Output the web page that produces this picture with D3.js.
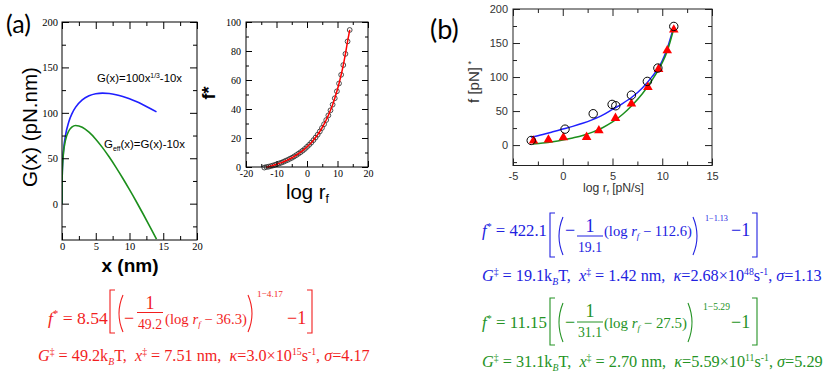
<!DOCTYPE html>
<html>
<head>
<meta charset="utf-8">
<script src="https://cdn.jsdelivr.net/npm/d3@7"></script>
<style>
    body { margin: 0; background: #fff; }
    svg { display: block; }
    text { white-space: pre; }
</style>
</head>
<body>
<svg id="fig" width="830" height="388"></svg>
<script>
// ---------------- data ----------------

// (a) free energy profiles, x in nm
var energyX = [0, 0.01, 0.02, 0.05, 0.1, 0.25, 0.5, 1, 1.5, 2, 3, 4, 5, 6, 7, 8, 9, 10, 11, 12, 13, 14];
var energyG = [0, 21.5, 27.1, 36.3, 45.4, 60.5, 74.4, 90, 99.5, 106, 114.2, 118.7, 121, 121.7, 121.3,
    120, 118, 115.4, 112.4, 108.9, 105.1, 101];
var energyGeff = [0, 21.3, 26.7, 35.8, 44.4, 58, 69.4, 80, 84.5, 86, 84.2, 78.7, 71, 61.7, 51.3,
    40, 28, 15.4, 2.4, -11.1, -24.9, -39];

// (a) inset: rupture force vs log loading rate
var insetLogR = [-14, -13.3, -12.6, -11.9, -11.2, -10.5, -9.8, -9.1, -8.4, -7.7, -7, -6.3, -5.6, -4.9,
    -4.2, -3.5, -2.8, -2.1, -1.4, -0.7, 0, 0.7, 1.4, 2.1, 2.8, 3.5, 4.2, 4.9, 5.6, 6.3, 7, 7.7, 8.4,
    9.1, 9.8, 10.5, 11.2, 11.9, 12.6, 13.3, 14];
var insetForce = [-0.4, 0, 0.2, 0.6, 1.0, 1.5, 2.0, 2.5, 3.0, 3.6, 4.3, 4.9, 5.7, 6.4, 7.3, 8.2, 9.2,
    10.2, 11.3, 12.5, 13.9, 15.3, 16.8, 18.5, 20.3, 22.3, 24.5, 26.9, 29.5, 32.4, 35.6, 39.1, 43.0,
    47.4, 52.2, 57.6, 63.6, 70.3, 78.0, 86.6, 94.5];

// (b) experimental points
var circleLogR = [-3.17, 0.23, 3.06, 4.96, 5.33, 6.9, 8.5, 9.56, 11.16];
var circleForce = [6.8, 23.4, 46.1, 59.8, 57.8, 73.4, 93.6, 113.2, 174.4];
var triangleLogR = [-2.94, -1.44, 0.06, 2.4, 3.63, 5.3, 6.9, 8.56, 9.63, 10.5, 11.16];
var triangleForce = [6.3, 7.8, 11.2, 11.7, 21.5, 39.6, 60.7, 85.2, 111.6, 139, 169.5];

// (b) fitted curves
var blueFitLogR = [-3.2, -2, -1, 0, 1, 2, 3, 4, 5, 6, 7, 8, 9, 9.6, 10, 10.5, 11.1];
var blueFitForce = [11.5, 15.5, 19.5, 23.5, 27.5, 32, 37.5, 44, 52.5, 61, 71, 84, 101, 113, 124, 142, 171];
var greenFitLogR = [-3, -2, -1, 0, 1, 2, 3, 4, 5, 6, 7, 8, 9, 9.6, 10, 10.5, 11.1];
var greenFitForce = [1.5, 3, 5, 7.5, 10.5, 14, 19, 25.5, 34, 45, 59, 75.5, 96, 110, 121, 138, 168];

// tick values
var energyXTicks = [0, 5, 10, 15, 20], energyXMinor = [2.5, 7.5, 12.5, 17.5];
var energyYTicks = [0, 50, 100, 150, 200], energyYMinor = [-25, 25, 75, 125, 175];
var insetXTicks = [-20, -10, 0, 10, 20], insetXMinor = [-15, -5, 5, 15];
var insetYTicks = [0, 20, 40, 60, 80, 100], insetYMinor = [10, 30, 50, 70, 90];
var rateXTicks = [-5, 0, 5, 10, 15], rateXMinor = [-2.5, 2.5, 7.5, 12.5];
var rateYTicks = [0, 50, 100, 150, 200], rateYMinor = [-25, 25, 75, 125, 175];

// fit parameters printed under the panels: [f0, G, offset, sigma, x, kappa mantissa, kappa exponent]
var redFit = ['8.54', '49.2', '36.3', '4.17', '7.51', '3.0', '15'];
var blueFit = ['422.1', '19.1', '112.6', '1.13', '1.42', '2.68', '48'];
var greenFit = ['11.15', '31.1', '27.5', '5.29', '2.70', '5.59', '11'];

// ---------------- helpers ----------------
var svg = d3.select('#fig');
var serif = '"Liberation Serif", "Times New Roman", serif';
var sans = '"Liberation Sans", Arial, Helvetica, sans-serif';

// Frame with inward major/minor ticks on all four sides (xmgrace look)
var drawFrame = function(g, x, y, o) {
    var xr = x.range(), yr = y.range();
    var sides = [
        {make: d3.axisBottom, scale: x, at: [0, yr[0]], major: o.xTicks, minor: o.xMinor, labels: true, pad: o.xPad},
        {make: d3.axisTop, scale: x, at: [0, yr[1]], major: o.xTicks, minor: o.xMinor, labels: false, pad: 0},
        {make: d3.axisLeft, scale: y, at: [xr[0], 0], major: o.yTicks, minor: o.yMinor, labels: true, pad: o.yPad},
        {make: d3.axisRight, scale: y, at: [xr[1], 0], major: o.yTicks, minor: o.yMinor, labels: false, pad: 0}
    ];
    sides.forEach(function(s) {
        var tr = 'translate(' + s.at[0] + ',' + s.at[1] + ')';
        g.append('g').attr('transform', tr)
            .call(s.make(s.scale).tickValues(s.minor).tickSize(-o.minorLen).tickFormat(''));
        g.append('g').attr('transform', tr)
            .call(s.make(s.scale).tickValues(s.major).tickSize(-o.majorLen)
                .tickPadding(s.pad).tickFormat(s.labels ? String : ''));
    });
    g.selectAll('.domain').remove();
    g.selectAll('.tick line').attr('stroke', o.color);
    g.selectAll('.tick text')
        .attr('fill', o.textColor)
        .style('font-family', o.font)
        .style('font-size', o.fontSize + 'px');
    g.append('rect')
        .attr('x', xr[0]).attr('y', yr[1])
        .attr('width', xr[1] - xr[0]).attr('height', yr[0] - yr[1])
        .attr('fill', 'none').attr('stroke', o.color).attr('stroke-width', 1);
};

// A row of text with italic / superscript / subscript pieces.
// If width is given, the font size is scaled so the row spans that width.
var mathRow = function(g, x, y, parts, size, width, anchor) {
    var build = function(fs) {
        var t = g.append('text').attr('x', x).attr('y', y)
            .attr('text-anchor', anchor || 'start')
            .style('font-size', fs + 'px');
        var shift = 0;
        parts.forEach(function(p) {
            var kind = p[1] || '';
            var target = kind.indexOf('sup') >= 0 ? -0.38 * fs
                : kind.indexOf('sub') >= 0 ? 0.22 * fs : 0;
            var span = t.append('tspan').attr('dy', target - shift).text(p[0]);
            if (target !== 0) span.style('font-size', (0.6 * fs) + 'px');
            if (kind.charAt(0) === 'i') span.style('font-style', 'italic');
            shift = target;
        });
        return t;
    };
    var t = build(size);
    if (width) {
        var w = t.node().getComputedTextLength();
        t.remove();
        t = build(size * width / w);
    }
    return t;
};

// f* = a [ ( -1/b (log r_f - c) )^(1-s) - 1 ] laid out at the measured positions
var drawForceFormula = function(g, v, p) {
    g.attr('fill', p.color).style('font-family', serif);
    var line = function(d) {
        g.append('path').attr('d', d).attr('fill', 'none')
            .attr('stroke', p.color).attr('stroke-width', 1.1);
    };
    mathRow(g, p.f[0], p.base, [['f', 'i'], ['*', 'sup'], [' = '], [v[0]]], 18, p.f[1] - p.f[0]);
    // square brackets
    line('M' + (p.lb + 5) + ',' + p.br[0] + 'H' + p.lb + 'V' + p.br[1] + 'H' + (p.lb + 5));
    line('M' + (p.rb - 5) + ',' + p.br[0] + 'H' + p.rb + 'V' + p.br[1] + 'H' + (p.rb - 5));
    // tall parentheses
    var pm = (p.pr[0] + p.pr[1]) / 2;
    line('M' + (p.lp + 6) + ',' + p.pr[0] + 'Q' + (p.lp - 2) + ',' + pm + ' ' + (p.lp + 6) + ',' + p.pr[1]);
    line('M' + p.rp + ',' + p.pr[0] + 'Q' + (p.rp + 8) + ',' + pm + ' ' + p.rp + ',' + p.pr[1]);
    g.append('text').attr('x', p.minus).attr('y', p.base).style('font-size', '18px').text('\u2212');
    // fraction 1 / b
    var fc = (p.frac[0] + p.frac[1]) / 2;
    g.append('text').attr('x', fc).attr('y', p.num).attr('text-anchor', 'middle')
        .style('font-size', '18px').text('1');
    g.append('line').attr('x1', p.frac[0]).attr('x2', p.frac[1])
        .attr('y1', p.bar).attr('y2', p.bar).attr('stroke', p.color).attr('stroke-width', 1);
    mathRow(g, fc, p.den, [[v[1]]], 18, p.frac[1] - p.frac[0] - 2, 'middle');
    mathRow(g, p.inner[0], p.base, [['(log '], ['r', 'i'], ['f', 'isub'], [' \u2212 ' + v[2] + ')']],
        18, p.inner[1] - p.inner[0]);
    mathRow(g, p.sup[0], p.supBase, [['1\u2212' + v[3]]], 11, p.sup[1] - p.sup[0]);
    g.append('text').attr('x', p.m1).attr('y', p.base).style('font-size', '18px').text('\u22121');
    // parameter line
    mathRow(g, p.row[0], p.row[2], [['G', 'i'], ['\u2021', 'sup'], [' = ' + v[1] + 'k'], ['B', 'isub'],
        ['T,  '], ['x', 'i'], ['\u2021', 'sup'], [' = ' + v[4] + ' nm,  '], ['\u03ba', 'i'],
        ['=' + v[5] + '\u00d710'], [v[6], 'sup'], ['s'], ['-1', 'sup'], [', '], ['\u03c3', 'i'],
        ['=' + v[3]]], 18, p.row[1] - p.row[0]);
};

// ---------------- panel (a): free energy ----------------
var xE = d3.scaleLinear().domain([0, 20]).range([62, 197]);
var yE = d3.scaleLinear().domain([-40, 200]).range([240, 22]);
var gE = svg.append('g');
svg.append('defs').append('clipPath').attr('id', 'clipE')
    .append('rect').attr('x', 62).attr('y', 22).attr('width', 135).attr('height', 218);

var energyLine = d3.line().curve(d3.curveMonotoneX);
gE.append('path')
    .attr('d', energyLine(energyX.map(function(d, i) { return [xE(d), yE(energyG[i])]; })))
    .attr('fill', 'none').attr('stroke', '#1f1fff').attr('stroke-width', 1.6)
    .attr('clip-path', 'url(#clipE)');
gE.append('path')
    .attr('d', energyLine(energyX.map(function(d, i) { return [xE(d), yE(energyGeff[i])]; })))
    .attr('fill', 'none').attr('stroke', '#1c8f1c').attr('stroke-width', 1.6)
    .attr('clip-path', 'url(#clipE)');

drawFrame(gE, xE, yE, {
    xTicks: energyXTicks, xMinor: energyXMinor, yTicks: energyYTicks, yMinor: energyYMinor,
    majorLen: 7, minorLen: 4, xPad: 3, yPad: 4, color: '#000', textColor: '#000',
    font: serif, fontSize: 10.5
});

var gLab = svg.append('g').attr('fill', '#000').style('font-family', sans);
mathRow(gLab, 97, 82, [['G(x)=100x'], ['1/3', 'sup'], ['-10x']], 11.5, 85);
mathRow(gLab, 104, 148, [['G'], ['eff', 'sub'], ['(x)=G(x)-10x']], 11.5, 81);
mathRow(gLab.append('g').attr('transform', 'translate(37,127) rotate(-90)'), 0, 0,
    [['G(x) (pN.nm)']], 20, 120, 'middle');
mathRow(gLab, 130, 272, [['x (nm)']], 19, 54, 'middle').style('font-weight', 'bold');
gLab.append('text').attr('x', 6).attr('y', 33)
    .style('font-family', 'Lato, "Open Sans", sans-serif').style('font-size', '25px').text('(a)');

// ---------------- panel (a) inset: f* vs log r_f ----------------
var xI = d3.scaleLinear().domain([-20, 20]).range([246, 368]);
var yI = d3.scaleLinear().domain([0, 100]).range([167, 22]);
var gI = svg.append('g');
gI.selectAll('circle').data(insetLogR).enter().append('circle')
    .attr('cx', function(d) { return xI(d); })
    .attr('cy', function(d, i) { return yI(insetForce[i]); })
    .attr('r', 2.4).attr('fill', 'none').attr('stroke', '#222').attr('stroke-width', 0.8);
gI.append('path')
    .attr('d', d3.line().curve(d3.curveMonotoneX)(insetLogR.slice(1).map(function(d, i) {
        return [xI(d), yI(insetForce[i + 1])];
    })))
    .attr('fill', 'none').attr('stroke', '#ff0000').attr('stroke-width', 1.5);
drawFrame(gI, xI, yI, {
    xTicks: insetXTicks, xMinor: insetXMinor, yTicks: insetYTicks, yMinor: insetYMinor,
    majorLen: 6, minorLen: 3, xPad: 3, yPad: 5, color: '#000', textColor: '#000',
    font: serif, fontSize: 10
});
gLab.append('text').attr('transform', 'translate(215,93) rotate(-90)')
    .attr('text-anchor', 'middle').style('font-size', '18px').style('font-weight', 'bold')
    .text('f*');
mathRow(gLab, 286, 199, [['log r'], ['f', 'sub']], 18, 43);

// ---------------- panel (b): experiment and fits ----------------
var xB = d3.scaleLinear().domain([-5, 15]).range([513, 712]);
var yB = d3.scaleLinear().domain([-30, 200]).range([165.5, 9]);
var gB = svg.append('g');
var fitLine = d3.line().curve(d3.curveMonotoneX);
gB.append('path')
    .attr('d', fitLine(blueFitLogR.map(function(d, i) { return [xB(d), yB(blueFitForce[i])]; })))
    .attr('fill', 'none').attr('stroke', '#1f1fff').attr('stroke-width', 1.5);
gB.append('path')
    .attr('d', fitLine(greenFitLogR.map(function(d, i) { return [xB(d), yB(greenFitForce[i])]; })))
    .attr('fill', 'none').attr('stroke', '#1c8f1c').attr('stroke-width', 1.5);
var tri = d3.symbol().type(d3.symbolTriangle).size(40);
gB.selectAll('.tri').data(triangleLogR).enter().append('path')
    .attr('class', 'tri')
    .attr('transform', function(d, i) {
        return 'translate(' + xB(d) + ',' + yB(triangleForce[i]) + ')';
    })
    .attr('d', tri).attr('fill', '#ff0000');
gB.selectAll('circle').data(circleLogR).enter().append('circle')
    .attr('cx', function(d) { return xB(d); })
    .attr('cy', function(d, i) { return yB(circleForce[i]); })
    .attr('r', 4.2).attr('fill', 'none').attr('stroke', '#000').attr('stroke-width', 1);
drawFrame(gB, xB, yB, {
    xTicks: rateXTicks, xMinor: rateXMinor, yTicks: rateYTicks, yMinor: rateYMinor,
    majorLen: 7, minorLen: 4, xPad: 7, yPad: 5, color: '#222', textColor: '#333',
    font: sans, fontSize: 11
});
var gBL = svg.append('g').attr('fill', '#333').style('font-family', sans);
mathRow(gBL.append('g').attr('transform', 'translate(479,85) rotate(-90)'), 0, 0,
    [['f [pN]']], 12, 36, 'middle');
gBL.append('text').attr('x', 468).attr('y', 67).style('font-size', '9px').text('*');
mathRow(gBL, 583, 192, [['log r'], ['f', 'sub'], [' [pN/s]']], 12, 61);
svg.append('text').attr('x', 430).attr('y', 38.5).attr('fill', '#000')
    .style('font-family', 'Lato, "Open Sans", sans-serif').style('font-size', '27px').text('(b)');

// ---------------- fit formulas ----------------
drawForceFormula(svg.append('g'), redFit, {
    color: '#f21e1e', base: 324, f: [48, 108], lb: 110, br: [290, 333], lp: 117, pr: [295, 332],
    minus: 124, frac: [137, 163], bar: 312.5, num: 308.5, den: 329, inner: [165, 247], rp: 248,
    sup: [257, 283], supBase: 297, m1: 287, rb: 312, row: [38, 370, 361]
});
drawForceFormula(svg.append('g'), blueFit, {
    color: '#2121e0', base: 236, f: [482, 547], lb: 550, br: [213, 257], lp: 557, pr: [217, 255],
    minus: 565, frac: [577, 603], bar: 236, num: 231.5, den: 252, inner: [604, 692], rp: 693,
    sup: [705, 728], supBase: 221, m1: 731, rb: 757, row: [482, 822, 281]
});
drawForceFormula(svg.append('g'), greenFit, {
    color: '#259325', base: 328, f: [482, 547], lb: 550, br: [298, 345], lp: 557, pr: [303, 342],
    minus: 565, frac: [577, 603], bar: 322, num: 317, den: 337, inner: [604, 687], rp: 688,
    sup: [703, 730], supBase: 310, m1: 731, rb: 757, row: [482, 823, 367]
});
</script>
</body>
</html>
